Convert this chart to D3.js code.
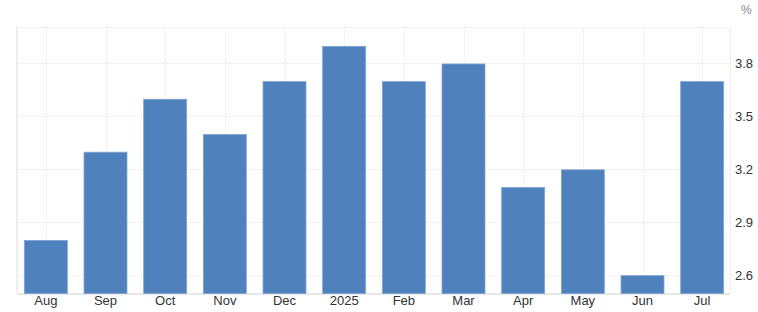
<!DOCTYPE html>
<html><head><meta charset="utf-8">
<script src="https://cdn.jsdelivr.net/npm/d3@7"></script>
<style>body{margin:0;background:#fff}svg{display:block;font-family:"Liberation Sans",Arial,sans-serif}</style>
</head><body>
<svg id="c" width="758" height="312"></svg>
<script>
const categories = ["Aug","Sep","Oct","Nov","Dec","2025","Feb","Mar","Apr","May","Jun","Jul"];
const values = [2.8,3.3,3.6,3.4,3.7,3.9,3.7,3.8,3.1,3.2,2.6,3.7];
const yTicks = [2.6,2.9,3.2,3.5,3.8];
const unit = "%";

const svg = d3.select("#c");
const x = d3.scaleBand().domain(categories).range([16,732]).paddingInner(0.28).paddingOuter(0.14);
const y = d3.scaleLinear().domain([2.5,4.0]).range([292.6,28]);
const pLeft = 17, pRight = 730, pTop = 27, pBottom = 293.5;

const g = svg.append("g");
// horizontal grid
g.selectAll("line.h").data(yTicks).enter().append("line")
 .attr("x1",pLeft).attr("x2",pRight).attr("y1",d=>Math.round(y(d))+0.5).attr("y2",d=>Math.round(y(d))+0.5)
 .attr("stroke","#e6e6e6").attr("stroke-dasharray","1,1");
g.append("line").attr("x1",pLeft).attr("x2",pRight).attr("y1",pTop+0.5).attr("y2",pTop+0.5)
 .attr("stroke","#e6e6e6").attr("stroke-dasharray","1,1");
// vertical grid
g.selectAll("line.v").data(categories).enter().append("line")
 .attr("x1",d=>Math.round(x(d)+x.bandwidth()/2)+0.5).attr("x2",d=>Math.round(x(d)+x.bandwidth()/2)+0.5)
 .attr("y1",pTop).attr("y2",pBottom).attr("stroke","#e6e6e6").attr("stroke-dasharray","1,1");
// borders
g.append("line").attr("x1",pLeft).attr("x2",pLeft).attr("y1",pTop).attr("y2",pBottom).attr("stroke","#eeeeee").attr("stroke-width",2);
g.append("line").attr("x1",pRight+0.5).attr("x2",pRight+0.5).attr("y1",pTop).attr("y2",pBottom).attr("stroke","#eeeeee");
g.append("line").attr("x1",pLeft).attr("x2",pRight).attr("y1",pBottom+0.5).attr("y2",pBottom+0.5).attr("stroke","#e8e8e8").attr("stroke-width",2);

// bars
g.selectAll("rect.bar").data(values).enter().append("rect")
 .attr("x",(d,i)=>x(categories[i]))
 .attr("width",x.bandwidth())
 .attr("y",d=>y(d)+0.7)
 .attr("height",d=>pBottom-y(d)-0.7)
 .attr("fill","#4f81bd").attr("stroke","#7fa3d3").attr("stroke-width",0.8);

// y labels
const yAxis = d3.axisRight(y).tickValues(yTicks).tickSize(0).tickPadding(0).tickFormat(d3.format(".1f"));
const ya = svg.append("g").attr("transform","translate(735,0)").call(yAxis);
ya.select(".domain").remove();
ya.selectAll("text").attr("fill","#333").attr("font-size",13).attr("font-family","Liberation Sans, Arial, sans-serif");

// x labels
const xAxis = d3.axisBottom(x).tickSize(0).tickPadding(0);
const xa = svg.append("g").attr("transform","translate(0,296)").call(xAxis);
xa.select(".domain").remove();
xa.selectAll("text").attr("fill","#333").attr("font-size",13).attr("font-family","Liberation Sans, Arial, sans-serif");

svg.append("text").attr("x",741).attr("y",14).attr("fill","#888").attr("font-size",12).text(unit);
</script>
</body></html>
